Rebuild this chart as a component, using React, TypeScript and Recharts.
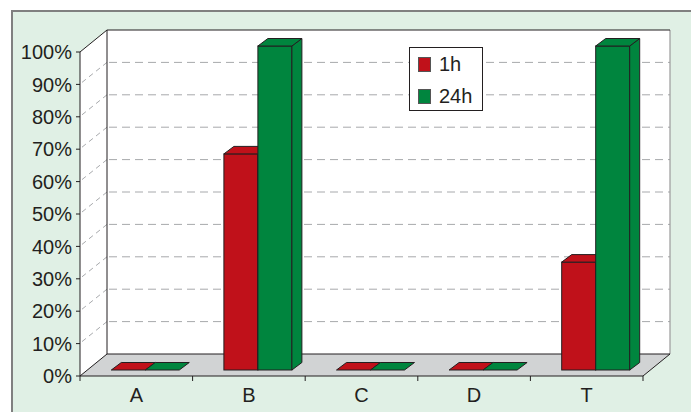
import React from 'react';
import { BarChart, Bar, XAxis, YAxis, ReferenceArea, Legend } from 'recharts';

const categories = ['A', 'B', 'C', 'D', 'T'];
const series1h = [0, 66.7, 0, 0, 33.3];
const series24h = [0, 100, 0, 0, 100];
const yTicks = [0, 10, 20, 30, 40, 50, 60, 70, 80, 90, 100];
const seriesNames = ['1h', '24h'];

const data = categories.map((c, i) => ({ name: c, h1: series1h[i], h24: series24h[i] }));

const RED = '#C0111A';
const GREEN = '#00853E';
const DARK = '#231F20';
const FONT = '"Liberation Sans", Arial, sans-serif';

const DX = 27;
const DY = -22;

const Box3D = (props: any) => {
  const { x, y, width: w, height: h } = props;
  const bottom = y + h;
  const lines = yTicks.filter((v) => v > 0 && v < 100).map((v) => {
    const yy = bottom - (v / 100) * h;
    return (
      <g key={v}>
        <line x1={x + DX + 2} y1={yy + DY} x2={x + w + DX} y2={yy + DY} stroke="#A7A9AC" strokeWidth={1} strokeDasharray="8 5" />
        <line x1={x + 2} y1={yy - 2} x2={x + DX} y2={yy + DY} stroke="#A7A9AC" strokeWidth={1} strokeDasharray="5 4" />
      </g>
    );
  });
  return (
    <g>
      <polygon points={`${x},${y} ${x + DX},${y + DY} ${x + DX},${bottom + DY} ${x},${bottom}`} fill="#fff" />
      <rect x={x + DX} y={y + DY} width={w} height={h} fill="#fff" />
      {lines}
      <polygon points={`${x},${bottom} ${x + w},${bottom} ${x + w + DX},${bottom + DY} ${x + DX},${bottom + DY}`} fill="#D1D3D4" />
      <line x1={x + w + DX} y1={y + DY} x2={x + w + DX} y2={bottom + DY} stroke="#9A9A9A" strokeWidth={1.2} />
      <line x1={x + DX} y1={y + DY} x2={x + DX} y2={bottom + DY} stroke={DARK} strokeWidth={1} />
      <line x1={x + DX} y1={y + DY} x2={x + w + DX} y2={y + DY} stroke={DARK} strokeWidth={1} />
      <line x1={x} y1={y} x2={x + DX} y2={y + DY} stroke={DARK} strokeWidth={1} />
      <line x1={x} y1={bottom} x2={x + DX} y2={bottom + DY} stroke={DARK} strokeWidth={1} />
      <line x1={x + DX} y1={bottom + DY} x2={x + w + DX} y2={bottom + DY} stroke={DARK} strokeWidth={1} />
      <line x1={x + w} y1={bottom} x2={x + w + DX} y2={bottom + DY} stroke={DARK} strokeWidth={1} />
    </g>
  );
};

const OX = 9;
const OY = -6;
const BDX = 10;
const BDY = -7.5;

const Bar3D = (props: any) => {
  const { x, y, width: w, height: h, fill } = props;
  if (x == null || y == null) return null;
  const fx = x + OX;
  const fy = y + OY;
  const hh = Math.max(0, h);
  return (
    <g>
      {hh > 0 && <rect x={fx} y={fy} width={w} height={hh} fill={fill} stroke={DARK} strokeWidth={1} />}
      {hh > 0 && (
        <polygon
          points={`${fx + w},${fy} ${fx + w + BDX},${fy + BDY} ${fx + w + BDX},${fy + hh + BDY} ${fx + w},${fy + hh}`}
          fill={fill}
          stroke={DARK}
          strokeWidth={1}
        />
      )}
      <polygon
        points={`${fx},${fy} ${fx + BDX},${fy + BDY} ${fx + w + BDX},${fy + BDY} ${fx + w},${fy}`}
        fill={fill}
        stroke={DARK}
        strokeWidth={1}
      />
    </g>
  );
};

const XTick = (props: any) => {
  const { x, y, payload, width, visibleTicksCount, index } = props;
  const half = width / (2 * (visibleTicksCount || categories.length));
  return (
    <g>
      <line x1={x - half} y1={y - 5} x2={x - half} y2={y} stroke={DARK} strokeWidth={1} />
      {index === (visibleTicksCount || categories.length) - 1 && (
        <line x1={x + half} y1={y - 5} x2={x + half} y2={y} stroke={DARK} strokeWidth={1} />
      )}
      <text x={x} y={y} dy={20.5} textAnchor="middle" fill={DARK} fontSize={20} fontFamily={FONT}>
        {payload.value}
      </text>
    </g>
  );
};

const LegendBox = (props: any) => {
  const { payload } = props;
  return (
    <div
      style={{
        width: 74,
        height: 64,
        boxSizing: 'border-box',
        border: `1px solid ${DARK}`,
        background: '#fff',
        position: 'relative',
        fontFamily: FONT,
        fontSize: 20,
        color: DARK,
      }}
    >
      {(payload || []).map((p: any, i: number) => (
        <div key={i} style={{ position: 'absolute', left: 8, top: 6 + i * 32, height: 20, display: 'flex', alignItems: 'center' }}>
          <span style={{ display: 'inline-block', width: 13, height: 15, background: p.color, border: '1px solid #555', boxSizing: 'border-box' }} />
          <span style={{ marginLeft: 8, lineHeight: '20px' }}>{p.value}</span>
        </div>
      ))}
    </div>
  );
};

export default function App() {
  return (
    <div style={{ position: 'fixed', left: 0, top: 0, width: 691, height: 412, overflow: 'hidden' }}>
      <div
        style={{
          position: 'absolute',
          left: 11,
          top: 10,
          width: 690,
          height: 410,
          background: '#E0F0E5',
          borderLeft: '2px solid #808080',
          borderTop: '2px solid #808080',
        }}
      />
      <div style={{ position: 'absolute', left: 0, top: 0 }}>
        <BarChart
          width={691}
          height={412}
          data={data}
          margin={{ top: 52, right: 48, bottom: 0, left: 12 }}
          barCategoryGap="19.8%"
          barGap={0}
        >
          <ReferenceArea y1={0} y2={100} shape={<Box3D />} ifOverflow="visible" />
          <XAxis
            dataKey="name"
            height={36}
            interval={0}
            axisLine={{ stroke: DARK, strokeWidth: 1 }}
            tickLine={false}
            tickSize={5}
            tickMargin={0}
            tick={<XTick />}
          />
          <YAxis
            domain={[0, 100]}
            ticks={yTicks}
            width={68}
            interval={0}
            axisLine={{ stroke: DARK, strokeWidth: 1 }}
            tickLine={{ stroke: DARK, strokeWidth: 1 }}
            tickSize={4}
            tickMargin={4}
            tickFormatter={(v: number) => `${v}%`}
            tick={{ fill: DARK, fontSize: 20, fontFamily: FONT }}
          />
          <Legend
            layout="horizontal"
            verticalAlign="middle"
            align="center"
            content={<LegendBox />}
            wrapperStyle={{ left: 409, top: 47, width: 74, height: 64, right: 'auto', bottom: 'auto' }}
          />
          <Bar dataKey="h1" name={seriesNames[0]} fill={RED} shape={<Bar3D />} isAnimationActive={false} />
          <Bar dataKey="h24" name={seriesNames[1]} fill={GREEN} shape={<Bar3D />} isAnimationActive={false} />
        </BarChart>
      </div>
    </div>
  );
}
